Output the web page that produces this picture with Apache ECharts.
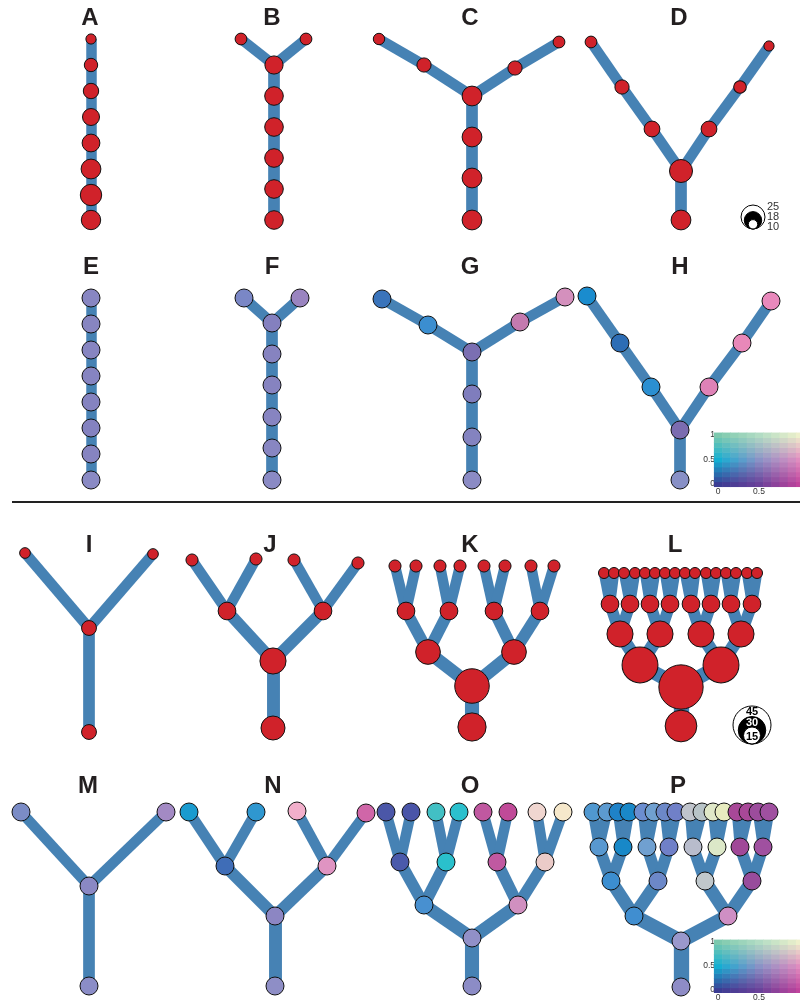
<!DOCTYPE html>
<html><head><meta charset="utf-8">
<script src="https://cdn.jsdelivr.net/npm/echarts@6/dist/echarts.min.js"></script>
<style>html,body{margin:0;padding:0;background:#fff}#c{width:800px;height:1002px}</style>
</head><body><div id="c"></div>
<script>
// ---------------- DATA ----------------
// Node positions ([x, y] in the layout's units), link lists ([child, parent]), size values, colours.
// Topologies
const chain_links = [[0,1],[1,2],[2,3],[3,4],[4,5],[5,6],[6,7]];
const fork1_links = [[0,2],[1,2],[2,3],[3,4],[4,5],[5,6],[6,7]];
const fork2_links = [[0,1],[1,2],[4,3],[3,2],[2,5],[5,6],[6,7]];
const fork3_links = [[0,1],[1,2],[2,3],[7,6],[6,5],[5,3],[3,4]];
const bin1_links = [[0,2],[1,2],[2,3]];
const bin2_links = [[0,4],[1,4],[2,5],[3,5],[4,6],[5,6],[6,7]];
const bin3_links = [[0,8],[1,8],[2,9],[3,9],[4,10],[5,10],[6,11],[7,11],[8,12],[9,12],[10,13],[11,13],[12,14],[13,14],[14,15]];
const bin4_links = [[0,16],[1,16],[2,17],[3,17],[4,18],[5,18],[6,19],[7,19],[8,20],[9,20],[10,21],[11,21],[12,22],[13,22],[14,23],[15,23],
  [16,24],[17,24],[18,25],[19,25],[20,26],[21,26],[22,27],[23,27],[24,28],[25,28],[26,29],[27,29],[28,30],[29,30],[30,31]];

// Top block (sizes on legend scale 10/18/25)
const A_nodes = [[91,39],[91,65],[91,91],[91,117],[91,143],[91,169],[91,195],[91,220]];
const A_size = [9,13,15.5,17.5,18.5,21,23,20.5];
const B_nodes = [[241,39],[306,39],[274,65],[274,96],[274,127],[274,158],[274,189],[274,220]];
const B_size = [11,11,19,19.5,19.5,19.5,19.5,19.5];
const C_nodes = [[379,39],[424,65],[472,96],[515,68],[559,42],[472,137],[472,178],[472,220]];
const C_size = [10.5,14,21,14,11,21,21,21];
const D_nodes = [[591,42],[622,87],[652,129],[681,171],[681,220],[709,129],[740,87],[769,46]];
const D_size = [11,14,16,25,21,16,12,9];

const E_nodes = [[91,298],[91,324],[91,350],[91,376],[91,402],[91,428],[91,454],[91,480]];
const E_color = ['#8886c2','#8785c1','#8785c1','#8684c1','#8583c0','#8482c0','#8684c1','#8a8ac4'];
const F_nodes = [[244,298],[300,298],[272,323],[272,354],[272,385],[272,417],[272,448],[272,480]];
const F_color = ['#7a87c6','#9a84c0','#8480bf','#8683c0','#8683c0','#8784c1','#8886c2','#8a8ac4'];
const G_nodes = [[382,299],[428,325],[472,352],[520,322],[565,297],[472,394],[472,437],[472,480]];
const G_color = ['#3a74bb','#3b8ed0','#7b6fb2','#c47aaf','#d490bd','#7f7dbd','#8483c0','#8b8bc4'];
const H_nodes = [[587,296],[620,343],[651,387],[680,430],[680,480],[709,387],[742,343],[771,301]];
const H_color = ['#1a8cce','#2d6db5','#2b8fd1','#7b6cb0','#8890c6','#df82b7','#e888b9','#e989bc'];

// Bottom block (sizes on legend scale 15/30/45)
const I_nodes = [[25,553],[153,554],[89,628],[89,732]];
const I_size = [6,6,12,12];
const J_nodes = [[192,560],[256,559],[294,560],[358,563],[227,611],[323,611],[273,661],[273,728]];
const J_size = [8,8,8,8,16,16,28,25];
const K_nodes = [[395,566],[416,566],[440,566],[460,566],[484,566],[505,566],[531,566],[554,566],
  [406,611],[449,611],[494,611],[540,611],[428,652],[514,652],[472,686],[472,727]];
const K_size = [8,8,8,8,8,8,8,8,16,16,16,16,26,26,40,31];
const L_nodes = [[604,573],[614,573],[624,573],[635,573],[645,573],[655,573],[665,573],[675,573],
  [685,573],[695,573],[706,573],[716,573],[726,573],[736,573],[747,573],[757,573],
  [610,604],[630,604],[650,604],[670,604],[691,604],[711,604],[731,604],[752,604],
  [620,634],[660,634],[701,634],[741,634],[640,665],[721,665],[681,687],[681,726]];
const L_size = [6.5,6.5,6.5,6.5,6.5,6.5,6.5,6.5,6.5,6.5,6.5,6.5,6.5,6.5,6.5,6.5,
  16,16,16,16,16,16,16,16,28,28,28,28,42,42,54,36];

const M_nodes = [[21,812],[166,812],[89,886],[89,986]];
const M_color = ['#7b8cc6','#a38ac4','#8a88c4','#8b8dc7'];
const N_nodes = [[189,812],[256,812],[297,811],[366,813],[225,866],[327,866],[275,916],[275,986]];
const N_color = ['#1a9bcf','#2f97d0','#f2afcb','#d066a8','#3f6db7','#df94c2','#8c86c3','#8e8ec6'];
const O_nodes = [[386,812],[411,812],[436,812],[459,812],[483,812],[508,812],[537,812],[563,812],
  [400,862],[446,862],[497,862],[545,862],[424,905],[518,905],[472,938],[472,986]];
const O_color = ['#4b57a8','#4a55a8','#42c0c4','#2bc0cd','#c058a0','#c04a98','#f0d6d0','#f6e8cb',
  '#4a5aab','#2ac0cc','#c059a1','#ebcbc8','#4890d0','#d090c0','#9190c8','#8c8cc6'];
const P_nodes = [[593,812],[607,812],[618,812],[629,812],[643,812],[654,812],[665,812],[676,812],
  [690,812],[702,812],[713,812],[724,812],[737,812],[748,812],[758,812],[769,812],
  [599,847],[623,847],[647,847],[669,847],[693,847],[717,847],[740,847],[763,847],
  [611,881],[658,881],[705,881],[752,881],[634,916],[728,916],[681,941],[681,987]];
const P_color = ['#5098d0','#5c9ad0','#1f82c8','#1a88c8','#6c8ed0','#70a0d0','#6c88c8','#7080c8',
  '#c0c4cc','#b8c4c8','#e0e8c8','#e8ecc0','#a84898','#a84898','#9c4c9c','#a050a0',
  '#5898d0','#1888c8','#70a0d0','#7080c8','#b8bccc','#dce8c8','#a04898','#a050a0',
  '#3c8ed0','#6c88c8','#c0c8cc','#984c9c','#408ed0','#cf8fc4','#9a98cc','#8e8cc6'];

const panel_labels = ['A','B','C','D','E','F','G','H','I','J','K','L','M','N','O','P'];
const size_legend_top = [25,18,10];
const size_legend_bottom = [45,30,15];

// ---------------- STYLE / LAYOUT ----------------
const EDGE = '#4682b4', RED = '#d0222a';
const sizeTop = v => 0.8*v + 3;
const sizeBot = v => 0.7*v + 6.5;
const labelPos = [[90,18],[272,18],[470,18],[679,18],[91,267],[272,267],[470,267],[680,267],
  [89,545],[270,545],[470,545],[675,545],[88,786],[273,786],[470,786],[678,786]];

function leafCounts(n, links){
  const kids = Array.from({length:n},()=>[]);
  links.forEach(([c,p])=>kids[p].push(c));
  const memo = {};
  const cnt = i => (memo[i] !== undefined ? memo[i] : (memo[i] = kids[i].length ? kids[i].reduce((s,k)=>s+cnt(k),0) : 1));
  return links.map(([c])=>cnt(c));
}
function tree(nodes, links, sizes, sizeFn, colors){
  const lc = leafCounts(nodes.length, links);
  return {
    type:'graph', coordinateSystem:'cartesian2d', xAxisIndex:0, yAxisIndex:0,
    silent:true, animation:false, symbol:'circle', z:2,
    data: nodes.map((p,i)=>({value:p, symbolSize: sizes ? sizeFn(sizes[i]) : 18,
      itemStyle:{color: colors ? colors[i] : RED, borderColor:'#111', borderWidth:1}})),
    links: links.map((l,k)=>({source:l[0], target:l[1], lineStyle:{width: 10.5 + 1.2*Math.log2(lc[k])}})),
    lineStyle:{color:EDGE, opacity:1, curveness:0},
    label:{show:false}, emphasis:{disabled:true}
  };
}

// bivariate colormap (x: 0..1, y: 0..1)
const CM = [
  ['#3b3c93','#6a4199','#c0449c'],
  ['#14aed2','#8a92c6','#e08cbf'],
  ['#7cc9ae','#b2dcc4','#eef0cc']];
function hex(c){return [parseInt(c.slice(1,3),16),parseInt(c.slice(3,5),16),parseInt(c.slice(5,7),16)];}
function mix(a,b,t){return a.map((v,i)=>v+(b[i]-v)*t);}
function cmap(x,y){
  const xi = Math.min(1, Math.floor(x*2)), yi = Math.min(1, Math.floor(y*2));
  const tx = x*2 - xi, ty = y*2 - yi;
  const c00 = hex(CM[yi][xi]), c10 = hex(CM[yi][xi+1]), c01 = hex(CM[yi+1][xi]), c11 = hex(CM[yi+1][xi+1]);
  const c = mix(mix(c00,c10,tx), mix(c01,c11,tx), ty);
  return 'rgb('+c.map(Math.round).join(',')+')';
}
const cells = [];
for (let i=0;i<=10;i++) for (let j=0;j<=10;j++) cells.push({value:[i/10,j/10], itemStyle:{color:cmap(i/10,j/10)}});
function cmapSeries(idx){
  return {type:'custom', xAxisIndex:idx, yAxisIndex:idx, silent:true, animation:false, z:1,
    data: cells,
    renderItem:(params, api)=>{
      const x = api.value(0), y = api.value(1);
      const p0 = api.coord([x-0.05, y+0.05]), p1 = api.coord([x+0.05, y-0.05]);
      return {type:'rect', shape:{x:p0[0], y:p0[1], width:p1[0]-p0[0]+0.6, height:p1[1]-p0[1]+0.6},
        style:{fill: api.visual('color')}};
    }};
}
const legAxisX = idx => ({type:'value', gridIndex:idx, min:0, max:1, interval:0.5,
  axisLine:{show:false}, splitLine:{show:false},
  axisTick:{show:true, length:2, lineStyle:{color:'#333'}},
  axisLabel:{fontSize:8.5, color:'#333', margin:3, fontFamily:'Liberation Sans', showMaxLabel:false}});
const legAxisY = idx => ({type:'value', gridIndex:idx, min:0, max:1, interval:0.5,
  axisLine:{show:false}, splitLine:{show:false},
  axisTick:{show:true, length:2, lineStyle:{color:'#333'}},
  axisLabel:{fontSize:8.5, color:'#333', margin:3, fontFamily:'Liberation Sans'}});

// graphics: panel labels, divider, size legends
const graphics = [];
panel_labels.forEach((t,i)=>graphics.push({type:'text', silent:true, z:10,
  style:{text:t, x:labelPos[i][0], y:labelPos[i][1], font:'bold 24px "Liberation Sans", Arial, sans-serif',
    fill:'#231f20', align:'center', verticalAlign:'middle'}}));
graphics.push({type:'line', silent:true, shape:{x1:12,y1:502,x2:800,y2:502}, style:{stroke:'#222', lineWidth:2}});
// top size legend
(function(){
  const cx = 753, bottom = 229;
  const fills = ['#fff','#000','#fff'];
  size_legend_top.forEach((v,i)=>{
    const r = sizeTop(v)/2 + (i===0?0.5:0) - (i===2?0.8:0);
    graphics.push({type:'circle', silent:true, z:10, shape:{cx:cx, cy:bottom-r, r:r},
      style:{fill:fills[i], stroke:'#000', lineWidth:1}});
  });
  [207,217,227].forEach((y,i)=>graphics.push({type:'text', silent:true, z:11,
    style:{text:String(size_legend_top[i]), x:767, y:y, font:'11px "Liberation Sans", Arial, sans-serif',
      fill:'#333', align:'left', verticalAlign:'middle'}}));
})();
// bottom size legend
(function(){
  const cx = 752, bottom = 744;
  const fills = ['#fff','#000','#fff'];
  const tcol = ['#000','#fff','#000'];
  const ty = [712,723,737];
  size_legend_bottom.forEach((v,i)=>{
    const r = sizeBot(v)/2;
    graphics.push({type:'circle', silent:true, z:10, shape:{cx:cx, cy:bottom-r, r:r},
      style:{fill:fills[i], stroke:'#000', lineWidth:1}});
  });
  size_legend_bottom.forEach((v,i)=>graphics.push({type:'text', silent:true, z:11,
    style:{text:String(v), x:cx, y:ty[i], font:'bold 11px "Liberation Sans", Arial, sans-serif',
      fill:tcol[i], align:'center', verticalAlign:'middle'}}));
})();

const chart = echarts.init(document.getElementById('c'), null, {renderer:'canvas'});
chart.setOption({
  animation:false,
  backgroundColor:'#fff',
  grid:[
    {left:0, top:0, width:800, height:1002},
    {left:718, top:435, width:84, height:49},
    {left:718, top:942, width:84, height:49}
  ],
  xAxis:[
    {type:'value', gridIndex:0, min:0, max:800, show:false},
    legAxisX(1), legAxisX(2)
  ],
  yAxis:[
    {type:'value', gridIndex:0, min:0, max:1002, inverse:true, show:false},
    legAxisY(1), legAxisY(2)
  ],
  graphic: graphics,
  series:[
    tree(A_nodes, chain_links, A_size, sizeTop),
    tree(B_nodes, fork1_links, B_size, sizeTop),
    tree(C_nodes, fork2_links, C_size, sizeTop),
    tree(D_nodes, fork3_links, D_size, sizeTop),
    tree(E_nodes, chain_links, null, null, E_color),
    tree(F_nodes, fork1_links, null, null, F_color),
    tree(G_nodes, fork2_links, null, null, G_color),
    tree(H_nodes, fork3_links, null, null, H_color),
    tree(I_nodes, bin1_links, I_size, sizeBot),
    tree(J_nodes, bin2_links, J_size, sizeBot),
    tree(K_nodes, bin3_links, K_size, sizeBot),
    tree(L_nodes, bin4_links, L_size, sizeBot),
    tree(M_nodes, bin1_links, null, null, M_color),
    tree(N_nodes, bin2_links, null, null, N_color),
    tree(O_nodes, bin3_links, null, null, O_color),
    tree(P_nodes, bin4_links, null, null, P_color),
    cmapSeries(1), cmapSeries(2)
  ]
});
</script>
</body></html>
